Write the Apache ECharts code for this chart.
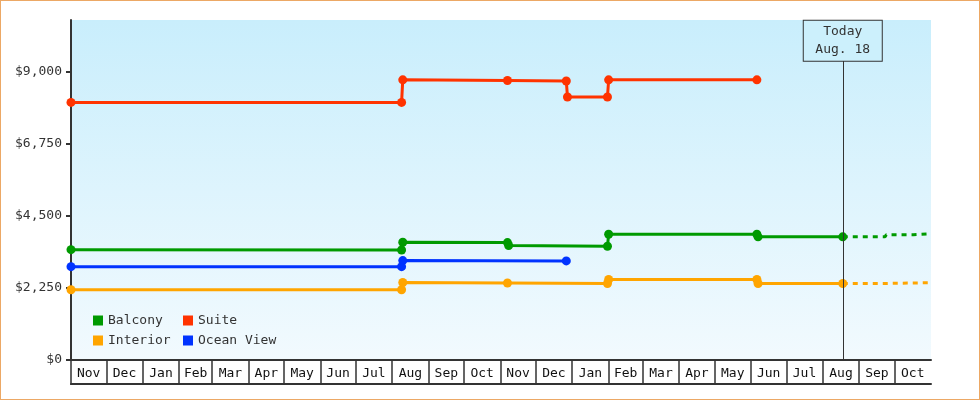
<!DOCTYPE html>
<html>
<head>
<meta charset="utf-8">
<title>Cabin price history</title>
<script src="https://cdn.jsdelivr.net/npm/echarts@6/dist/echarts.min.js"></script>
<style>
    html, body { margin: 0; padding: 0; background: #fff; }
    #price-chart {
        width: 980px;
        height: 400px;
        outline: 1px solid #eca865;
        outline-offset: -1px;
    }
</style>
</head>
<body>
<div id="price-chart"></div>
<script>
// Price history per cabin type (date of change, fare in USD)
const balconyDates = ['2022-11-01', '2023-08-09', '2023-08-10', '2023-11-07', '2023-11-08', '2024-01-31', '2024-02-01', '2024-06-06', '2024-06-07', '2024-08-18'];
const balconyPrices = [3440, 3430, 3670, 3660, 3570, 3545, 3920, 3920, 3840, 3840];

const suiteDates = ['2022-11-01', '2023-08-09', '2023-08-10', '2023-11-07', '2023-12-27', '2023-12-28', '2024-01-31', '2024-02-01', '2024-06-06'];
const suitePrices = [8030, 8030, 8735, 8715, 8700, 8200, 8200, 8735, 8735];

const interiorDates = ['2022-11-01', '2023-08-09', '2023-08-10', '2023-11-07', '2024-01-31', '2024-02-01', '2024-06-06', '2024-06-07', '2024-08-18'];
const interiorPrices = [2190, 2190, 2415, 2400, 2385, 2510, 2510, 2385, 2385];

const oceanViewDates = ['2022-11-01', '2023-08-09', '2023-08-10', '2023-12-27'];
const oceanViewPrices = [2910, 2910, 3100, 3090];

// Projected fares after today (dotted)
const balconyProjDates = ['2024-08-18', '2024-09-23', '2024-09-24', '2024-10-17', '2024-10-18', '2024-11-01'];
const balconyProjPrices = [3840, 3840, 3905, 3905, 3935, 3935];
const interiorProjDates = ['2024-08-18', '2024-09-23', '2024-09-24', '2024-11-01'];
const interiorProjPrices = [2385, 2385, 2410, 2410];

// Axis
const monthStarts = ['2022-11-01', '2022-12-01', '2023-01-01', '2023-02-01', '2023-03-01', '2023-04-01',
    '2023-05-01', '2023-06-01', '2023-07-01', '2023-08-01', '2023-09-01', '2023-10-01',
    '2023-11-01', '2023-12-01', '2024-01-01', '2024-02-01', '2024-03-01', '2024-04-01',
    '2024-05-01', '2024-06-01', '2024-07-01', '2024-08-01', '2024-09-01', '2024-10-01'];
const monthLabels = ['Nov', 'Dec', 'Jan', 'Feb', 'Mar', 'Apr', 'May', 'Jun', 'Jul', 'Aug', 'Sep', 'Oct',
    'Nov', 'Dec', 'Jan', 'Feb', 'Mar', 'Apr', 'May', 'Jun', 'Jul', 'Aug', 'Sep', 'Oct'];
const axisStart = '2022-11-01';
const axisEnd = '2024-11-01';
const yTicks = [0, 2250, 4500, 6750, 9000];
const yMax = 10600;

const todayDate = '2024-08-18';
const todayText = 'Today\nAug. 18';
const todayBoxBase = 9330;

const FONT = '"DejaVu Sans Mono", "Liberation Mono", monospace';

function toTime(d) {
    return echarts.time.parse(d).getTime();
}

function pairs(dates, values) {
    return dates.map((d, i) => [toTime(d), values[i]]);
}

const tickTimes = monthStarts.map(toTime);
const startTime = toTime(axisStart);
const endTime = toTime(axisEnd);
// labels sit in the middle of each month cell
const labelTimes = tickTimes.map((t, i) => (t + (i + 1 < tickTimes.length ? tickTimes[i + 1] : endTime)) / 2);

function monthLabel(value) {
    let idx = 0;
    for (let i = 0; i < tickTimes.length; i++) {
        if (value >= tickTimes[i]) idx = i;
    }
    return monthLabels[idx];
}

const chart = echarts.init(document.getElementById('price-chart'));

function solidSeries(name, color, dates, values) {
    return {
        name: name,
        type: 'line',
        data: pairs(dates, values),
        symbol: 'circle',
        symbolSize: 9,
        color: color,
        lineStyle: { width: 3, color: color },
        itemStyle: { color: color },
        z: 3
    };
}

function projSeries(name, color, dates, values) {
    return {
        name: name,
        type: 'line',
        data: pairs(dates, values),
        showSymbol: false,
        symbol: 'none',
        color: color,
        lineStyle: { width: 3, color: color, type: [5, 5] },
        z: 2
    };
}

const todayTime = toTime(todayDate);
const todayLine = projSeries('Balcony', '#009a00', balconyProjDates, balconyProjPrices);
todayLine.markLine = {
    silent: true,
    symbol: 'none',
    animation: false,
    lineStyle: { color: '#333', width: 1, type: 'solid' },
    label: {
        show: true,
        position: 'end',
        distance: 0,
        formatter: todayText,
        fontFamily: FONT,
        fontSize: 13,
        lineHeight: 18,
        color: '#333',
        width: 78,
        align: 'center',
        padding: [2, 0, 2, 0],
        backgroundColor: '#ccf0fc',
        borderColor: '#333',
        borderWidth: 1
    },
    data: [[{ coord: [todayTime, 0] }, { coord: [todayTime, todayBoxBase] }]]
};

const option = {
    animation: false,
    textStyle: { fontFamily: FONT },
    grid: {
        left: 71,
        right: 49,
        top: 20,
        bottom: 40,
        show: true,
        borderWidth: 0,
        backgroundColor: new echarts.graphic.LinearGradient(0, 0, 0, 1, [
            { offset: 0, color: '#c9eefc' },
            { offset: 1, color: '#f2fafe' }
        ])
    },
    legend: {
        data: ['Balcony', 'Suite', 'Interior', 'Ocean View'],
        orient: 'horizontal',
        left: 93,
        top: 314,
        width: 200,
        padding: 0,
        itemGap: 7,
        itemWidth: 10,
        itemHeight: 10,
        icon: 'rect',
        textStyle: {
            fontFamily: FONT,
            fontSize: 13,
            color: '#333',
            width: 68,
            lineHeight: 13
        }
    },
    xAxis: [
        {
            type: 'value',
            min: startTime,
            max: endTime,
            axisLine: { lineStyle: { color: '#333', width: 2 } },
            axisTick: {
                customValues: tickTimes,
                length: 25,
                lineStyle: { color: '#333', width: 1.5 }
            },
            axisLabel: {
                customValues: labelTimes,
                formatter: monthLabel,
                margin: 7,
                fontFamily: FONT,
                fontSize: 13,
                color: '#111',
                hideOverlap: false
            },
            splitLine: { show: false }
        },
        {
            // bottom edge of the month cells
            type: 'value',
            min: startTime,
            max: endTime,
            position: 'bottom',
            offset: 24,
            axisLine: { show: true, lineStyle: { color: '#333', width: 2 } },
            axisTick: { show: false },
            axisLabel: { show: false },
            splitLine: { show: false }
        }
    ],
    yAxis: {
        type: 'value',
        min: 0,
        max: yMax,
        axisLine: { show: true, lineStyle: { color: '#333', width: 2 } },
        axisTick: {
            show: true,
            customValues: yTicks,
            length: 5,
            lineStyle: { color: '#333', width: 2 }
        },
        axisLabel: {
            customValues: yTicks,
            margin: 9,
            fontFamily: FONT,
            fontSize: 13,
            color: '#333',
            formatter: v => '$' + v.toLocaleString('en-US')
        },
        splitLine: { show: false }
    },
    series: [
        solidSeries('Balcony', '#009a00', balconyDates, balconyPrices),
        solidSeries('Suite', '#ff3300', suiteDates, suitePrices),
        solidSeries('Interior', '#ffa500', interiorDates, interiorPrices),
        solidSeries('Ocean View', '#0033ff', oceanViewDates, oceanViewPrices),
        todayLine,
        projSeries('Interior', '#ffa500', interiorProjDates, interiorProjPrices)
    ]
};

chart.setOption(option);
</script>
</body>
</html>
